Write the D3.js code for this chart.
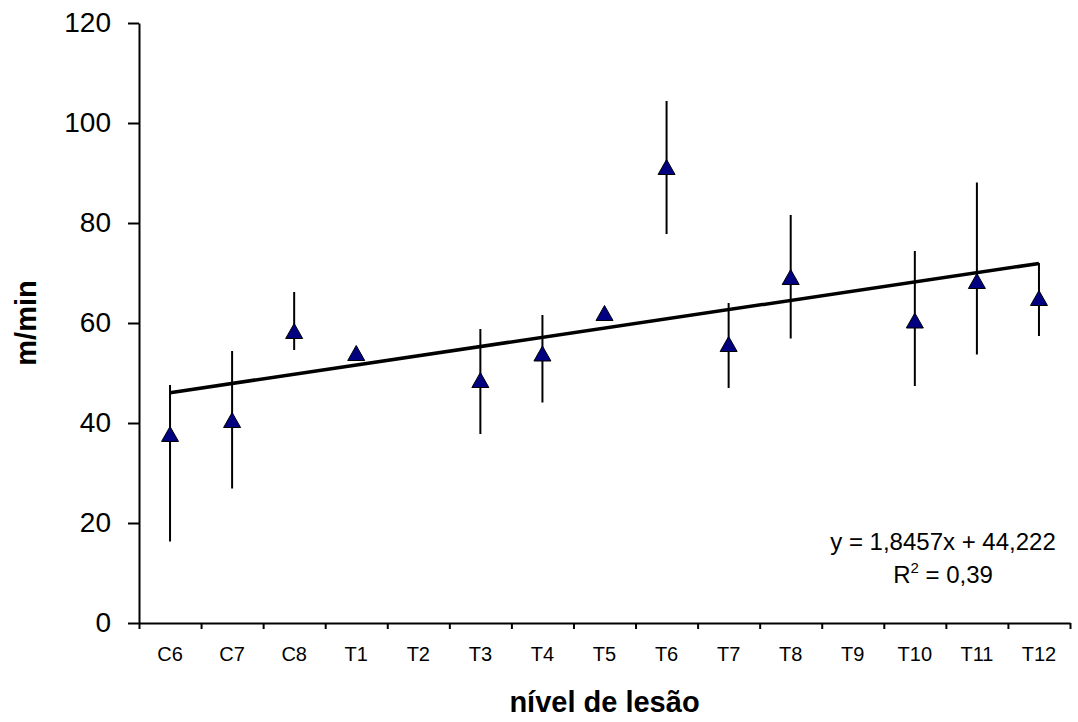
<!DOCTYPE html>
<html>
<head>
<meta charset="utf-8">
<script src="https://cdn.jsdelivr.net/npm/d3@7"></script>
<style>
  body { margin: 0; background: #fff; }
  text { font-family: "Liberation Sans", Arial, sans-serif; }
</style>
</head>
<body>
<script>
var categories = ["C6", "C7", "C8", "T1", "T2", "T3", "T4", "T5", "T6", "T7", "T8", "T9", "T10", "T11", "T12"];
var means = [37.8, 40.6, 58.4, 54, null, 48.6, 53.9, 62, 91.2, 55.8, 69.2, null, 60.5, 68.4, 65];
var errHigh = [47.6, 54.4, 66.2, 54, null, 58.8, 61.6, 62, 104.4, 64, 81.6, null, 74.4, 88.1, 72];
var errLow = [16.3, 26.9, 54.6, 54, null, 37.8, 44.1, 62, 77.8, 47, 56.9, null, 47.4, 53.7, 57.4];
var yTicks = [0, 20, 40, 60, 80, 100, 120];
var slope = 1.8457, intercept = 44.222;

var width = 1078, height = 722;
var plotLeft = 139, plotRight = 1070, plotTop = 23, plotBottom = 623;

var svg = d3.select("body").append("svg")
    .attr("width", width)
    .attr("height", height);

svg.append("rect")
	.attr("width", width)
	.attr("height", height)
	.attr("fill", "#fff");

var x = d3.scaleBand().domain(categories).range([plotLeft, plotRight]);
var xIdx = d3.scaleLinear().domain([0, 15]).range([plotLeft, plotRight]);
var y = d3.scaleLinear().domain([0, 120]).range([plotBottom, plotTop]);

// y axis
var yAxis = svg.append("g")
	.attr("transform", "translate(" + plotLeft + ",0)")
	.call(d3.axisLeft(y).tickValues(yTicks).tickSize(11).tickPadding(17).tickSizeOuter(0));
yAxis.selectAll("text").style("font-size", "28px").attr("fill", "#000");

// x axis tick marks between categories
var xAxis = svg.append("g")
	.attr("transform", "translate(0," + plotBottom + ")")
	.call(d3.axisBottom(xIdx).tickValues(d3.range(0, 16)).tickSize(6).tickFormat("").tickSizeOuter(0));

// x labels
var xLabels = svg.append("g")
	.attr("transform", "translate(0," + plotBottom + ")")
	.call(d3.axisBottom(x).tickSize(0).tickPadding(24));
xLabels.select(".domain").remove();
xLabels.selectAll("text").style("font-size", "20px").attr("fill", "#000");

svg.selectAll(".domain, .tick line").attr("stroke", "#000").attr("stroke-width", 2);

// error bars
var pts = categories.map(function(c, i) {
	return {cat: c, idx: i + 1, v: means[i], hi: errHigh[i], lo: errLow[i]};
}).filter(function(d) { return d.v != null; });

svg.append("g").selectAll("line")
	.data(pts)
	.enter().append("line")
	.attr("x1", function(d) { return x(d.cat) + x.bandwidth() / 2; })
	.attr("x2", function(d) { return x(d.cat) + x.bandwidth() / 2; })
	.attr("y1", function(d) { return y(d.hi); })
	.attr("y2", function(d) { return y(d.lo); })
	.attr("stroke", "#000")
	.attr("stroke-width", 2);

// markers
svg.append("g").selectAll("path")
	.data(pts)
	.enter().append("path")
	.attr("d", "M0,-7.5L8.5,7.5L-8.5,7.5Z")
	.attr("transform", function(d) {
		return "translate(" + (x(d.cat) + x.bandwidth() / 2) + "," + y(d.v) + ")";
	})
	.attr("fill", "#000080")
	.attr("stroke", "#000")
	.attr("stroke-width", 1);

// trend line
var xc = d3.scaleLinear().domain([1, 15]).range([x("C6") + x.bandwidth() / 2, x("T12") + x.bandwidth() / 2]);
svg.append("path")
	.datum([1, 15])
	.attr("d", d3.line()
		.x(function(d) { return xc(d); })
		.y(function(d) { return y(slope * d + intercept); }))
	.attr("stroke", "#000")
	.attr("stroke-width", 3.5)
	.attr("fill", "none");

// equation
svg.append("text")
	.attr("x", 943).attr("y", 550)
	.attr("text-anchor", "middle")
	.style("font-size", "24px")
	.text("y = 1,8457x + 44,222");
var r2 = svg.append("text")
	.attr("x", 943).attr("y", 583)
	.attr("text-anchor", "middle")
	.style("font-size", "24px");
r2.append("tspan").text("R");
r2.append("tspan").attr("dy", -10).style("font-size", "15px").text("2");
r2.append("tspan").attr("dy", 10).text(" = 0,39");

// axis titles
svg.append("text")
	.attr("x", (plotLeft + plotRight) / 2).attr("y", 712)
	.attr("text-anchor", "middle")
	.style("font-size", "29px")
	.style("font-weight", "bold")
	.text("nível de lesão");

svg.append("text")
	.attr("transform", "translate(36," + 323 + ") rotate(-90)")
	.attr("text-anchor", "middle")
	.style("font-size", "29px")
	.style("font-weight", "bold")
	.text("m/min");
</script>
</body>
</html>
